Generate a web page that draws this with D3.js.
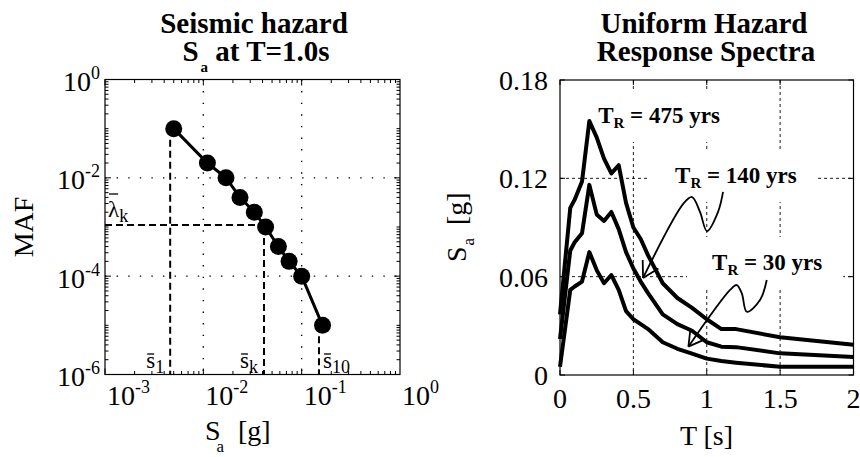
<!DOCTYPE html>
<html><head><meta charset="utf-8">
<script src="https://cdn.jsdelivr.net/npm/d3@7"></script>
<style>
body{margin:0;background:#fff}
svg{display:block}
text{font-family:"Liberation Serif","Times New Roman",serif;fill:#000}
</style>
</head><body>
<svg id="c" width="860" height="457"></svg>
<script>
// ---------- Left panel: seismic hazard curve ----------
const hazardSa  = [0.005, 0.011, 0.017, 0.0236, 0.033, 0.043, 0.058, 0.0745, 0.1, 0.163];
const hazardMAF = [0.1, 0.02, 0.01, 0.004, 0.002, 0.001, 0.0004, 0.0002, 0.0001, 0.00001];
const hazardXTicks = [1e-3, 1e-2, 1e-1, 1e0];
const hazardYTicks = [1e0, 1e-2, 1e-4, 1e-6];
const guideIdx = [0, 5, 9];              // points marked s̄1, s̄k, s̄10
const guideSa = [0.0046, 0.0414, 0.15];  // dashed verticals
const guideSub = ["1", "k", "10"];
const lambdaK = 0.0011;                  // dashed horizontal λ̄k

// ---------- Right panel: uniform hazard spectra ----------
const periods = [0, 0.07, 0.1, 0.15, 0.2, 0.25, 0.3, 0.35, 0.4, 0.45, 0.5, 0.55, 0.6, 0.7, 0.8, 0.9, 1.0, 1.1, 1.2, 1.5, 2.0];
const uhs475 = [0.037, 0.102, 0.107, 0.118, 0.155, 0.145, 0.132, 0.123, 0.128, 0.105, 0.090, 0.083, 0.073, 0.056, 0.047, 0.041, 0.034, 0.028, 0.028, 0.023, 0.0185];
const uhs140 = [0.022, 0.076, 0.081, 0.0865, 0.116, 0.098, 0.094, 0.0995, 0.089, 0.075, 0.065, 0.057, 0.050, 0.037, 0.031, 0.027, 0.020, 0.0173, 0.017, 0.0132, 0.011];
const uhs30  = [0.005, 0.052, 0.054, 0.057, 0.075, 0.064, 0.056, 0.061, 0.052, 0.039, 0.034, 0.031, 0.028, 0.020, 0.016, 0.013, 0.010, 0.0085, 0.0075, 0.005, 0.005];
const uhsXTicks = [0, 0.5, 1, 1.5, 2];
const uhsYTicks = [0, 0.06, 0.12, 0.18];
const uhsXTickLabels = ["0", "0.5", "1", "1.5", "2"];
const uhsYTickLabels = ["0", "0.06", "0.12", "0.18"];
const returnPeriods = ["475", "140", "30"];
const labelT = [0.26, 0.784, 1.036];
const labelS = [0.1538, 0.1172, 0.0641];
const arrow140T = [1.111, 1.077, 1.002, 0.954, 0.900, 0.845, 0.566];
const arrow140S = [0.1117, 0.0995, 0.0878, 0.0995, 0.1086, 0.1050, 0.0592];
const arrow30T  = [1.409, 1.363, 1.273, 1.239, 1.204, 1.159, 0.875];
const arrow30S  = [0.0580, 0.0458, 0.0386, 0.0498, 0.0549, 0.0519, 0.0173];

const svg = d3.select("#c");
const ANN = '"DejaVu Serif",serif';

function pow10(sel, exp) {
  sel.append("tspan").text("10");
  sel.append("tspan").attr("font-size", 18).attr("dy", -12).text(exp);
}

// ================= LEFT PANEL =================
const xL = d3.scaleLog().domain([1e-3, 1]).range([105, 400]);
const yL = d3.scaleLog().domain([1e-6, 1]).range([374.5, 79.5]);
const gL = svg.append("g");

// dotted grid
gL.selectAll(".gx").data(hazardXTicks.slice(1, -1)).join("line")
  .attr("x1", d => xL(d)).attr("x2", d => xL(d)).attr("y1", yL.range()[1]).attr("y2", yL.range()[0])
  .attr("stroke", "#000").attr("stroke-width", 1.4).attr("stroke-dasharray", "1.4,10.2");
gL.selectAll(".gy").data(hazardYTicks.slice(1, -1)).join("line")
  .attr("y1", d => yL(d)).attr("y2", d => yL(d)).attr("x1", xL.range()[0]).attr("x2", xL.range()[1])
  .attr("stroke", "#000").attr("stroke-width", 1.4).attr("stroke-dasharray", "1.4,10.2");

// minor/major ticks (inward, all four sides)
const xTickVals = [], yTickVals = [];
for (let e = -3; e < 0; e++) for (let k = 1; k < 10; k++) xTickVals.push(k * Math.pow(10, e));
for (let e = -6; e < 0; e++) for (let k = 1; k < 10; k++) yTickVals.push(k * Math.pow(10, e));
const isMajor = (v, list) => list.some(t => Math.abs(Math.log10(v) - Math.log10(t)) < 1e-6);
const tk = gL.append("g").attr("stroke", "#000").attr("stroke-width", 1);
xTickVals.forEach(v => {
  const L = isMajor(v, hazardXTicks) ? 6 : 3.5;
  tk.append("line").attr("x1", xL(v)).attr("x2", xL(v)).attr("y1", yL.range()[0]).attr("y2", yL.range()[0] - L);
  tk.append("line").attr("x1", xL(v)).attr("x2", xL(v)).attr("y1", yL.range()[1]).attr("y2", yL.range()[1] + L);
});
yTickVals.forEach(v => {
  const L = isMajor(v, hazardYTicks) ? 6 : 3.5;
  tk.append("line").attr("y1", yL(v)).attr("y2", yL(v)).attr("x1", xL.range()[0]).attr("x2", xL.range()[0] + L);
  tk.append("line").attr("y1", yL(v)).attr("y2", yL(v)).attr("x1", xL.range()[1]).attr("x2", xL.range()[1] - L);
});

// dashed guides
const dash = gL.append("g").attr("stroke", "#000").attr("stroke-width", 2).attr("stroke-dasharray", "7,4").attr("fill", "none");
guideIdx.forEach((pi, i) => {
  dash.append("line").attr("x1", xL(guideSa[i])).attr("x2", xL(guideSa[i]))
    .attr("y1", yL(hazardMAF[pi])).attr("y2", yL.range()[0]);
});
dash.append("line").attr("x1", xL.range()[0]).attr("x2", xL(hazardSa[5]))
  .attr("y1", yL(lambdaK)).attr("y2", yL(lambdaK));

// curve + markers
const pts = hazardSa.map((s, i) => [s, hazardMAF[i]]);
gL.append("path").datum(pts)
  .attr("d", d3.line().x(d => xL(d[0])).y(d => yL(d[1])))
  .attr("fill", "none").attr("stroke", "#000").attr("stroke-width", 3);
gL.selectAll("circle").data(pts).join("circle")
  .attr("cx", d => xL(d[0])).attr("cy", d => yL(d[1])).attr("r", 8.5).attr("fill", "#000");

// frame
gL.append("rect").attr("x", 105).attr("y", 79.5).attr("width", 295).attr("height", 295)
  .attr("fill", "none").attr("stroke", "#000").attr("stroke-width", 1.2);

// tick labels
hazardXTicks.forEach(t => {
  const tx = gL.append("text").attr("x", xL(t) + 2).attr("y", 405).attr("font-size", 28);
  pow10(tx, String(Math.round(Math.log10(t))));
});
hazardYTicks.forEach(t => {
  const tx = gL.append("text").attr("x", 100).attr("y", yL(t) + 11.5).attr("font-size", 28).attr("text-anchor", "end");
  pow10(tx, String(Math.round(Math.log10(t))));
});

// overlined symbol with subscript
function barSym(g, sym, sub, x, y, anchor, size, subSize, barY) {
  const t = g.append("text").attr("font-family", ANN).attr("font-size", size).attr("x", x).attr("y", y)
    .attr("text-anchor", anchor);
  t.append("tspan").text(sym);
  t.append("tspan").attr("font-size", subSize).attr("dy", 5).text(sub);
  const ext = t.node().getExtentOfChar(0);
  g.append("line").attr("x1", ext.x + 1).attr("x2", ext.x + ext.width - 1)
    .attr("y1", barY).attr("y2", barY).attr("stroke", "#000").attr("stroke-width", 1.3);
}
guideIdx.forEach((pi, i) => {
  const x = xL(guideSa[i]);
  barSym(gL, "s", guideSub[i], i === 2 ? x + 4 : x - 6, 368, i === 2 ? "start" : "end", 23, 18, 354);
});
barSym(gL, "\u03BB", "k", 108, yL(lambdaK) - 8, "start", 23, 18, 194);

// titles & labels
gL.append("text").attr("x", 254).attr("y", 33).attr("text-anchor", "middle").attr("font-size", 29).attr("font-weight", "bold").text("Seismic hazard");
const t2 = gL.append("text").attr("x", 256).attr("y", 61).attr("text-anchor", "middle").attr("font-size", 29).attr("font-weight", "bold");
t2.append("tspan").text("S");
t2.append("tspan").attr("font-size", 15).attr("dy", 11).attr("dx", 2).text("a");
t2.append("tspan").attr("dy", -11).text(" at T=1.0s");
const xl = gL.append("text").attr("x", 205).attr("y", 440).attr("font-size", 28);
xl.append("tspan").text("S");
xl.append("tspan").attr("font-size", 17).attr("dy", 12).attr("dx", -4).text("a");
xl.append("tspan").attr("dy", -12).attr("x", 238).text("[g]");
gL.append("text").attr("transform", "translate(33,227) rotate(-90)").attr("text-anchor", "middle").attr("font-size", 28).text("MAF");

// ================= RIGHT PANEL =================
const xR = d3.scaleLinear().domain([0, 2]).range([560, 853.5]);
const yR = d3.scaleLinear().domain([0, 0.18]).range([375, 80]);
const gR = svg.append("g");

// dashed grid
gR.selectAll(".vx").data(uhsXTicks.slice(1, -1)).join("line")
  .attr("x1", d => xR(d)).attr("x2", d => xR(d)).attr("y1", 80).attr("y2", 375)
  .attr("stroke", "#000").attr("stroke-width", 0.9).attr("stroke-dasharray", "3,3");
gR.selectAll(".hy").data(uhsYTicks.slice(1, -1)).join("line")
  .attr("y1", d => yR(d)).attr("y2", d => yR(d)).attr("x1", 560).attr("x2", 853.5)
  .attr("stroke", "#000").attr("stroke-width", 0.9).attr("stroke-dasharray", "3,3");

// ticks
const tkR = gR.append("g").attr("stroke", "#000").attr("stroke-width", 1);
uhsXTicks.forEach(v => {
  tkR.append("line").attr("x1", xR(v)).attr("x2", xR(v)).attr("y1", 375).attr("y2", 370);
  tkR.append("line").attr("x1", xR(v)).attr("x2", xR(v)).attr("y1", 80).attr("y2", 85);
});
uhsYTicks.forEach(v => {
  tkR.append("line").attr("y1", yR(v)).attr("y2", yR(v)).attr("x1", 560).attr("x2", 565);
  tkR.append("line").attr("y1", yR(v)).attr("y2", yR(v)).attr("x1", 853.5).attr("x2", 848.5);
});

// text boxes (white background, below curves)
const boxG = gR.append("g");
const curveG = gR.append("g");
const annG = gR.append("g");
const txtG = gR.append("g");

returnPeriods.forEach((rp, i) => {
  const t = txtG.append("text").attr("x", xR(labelT[i])).attr("y", yR(labelS[i]))
    .attr("font-size", 23).attr("font-weight", "bold");
  t.append("tspan").text("T");
  t.append("tspan").attr("font-size", 15).attr("dy", 5).text("R");
  t.append("tspan").attr("dy", -5).text(" = " + rp + " yrs");
  const bb = t.node().getBBox();
  boxG.append("rect").attr("x", bb.x - 25).attr("y", bb.y - 13).attr("width", bb.width + 46).attr("height", bb.height + 24)
    .attr("fill", "#fff");
});

// spectra
const series = [uhs475, uhs140, uhs30];
const lineR = d3.line().x(d => xR(d[0])).y(d => yR(d[1]));
series.forEach(s => {
  curveG.append("path").datum(periods.map((p, i) => [p, s[i]]))
    .attr("d", lineR).attr("fill", "none").attr("stroke", "#000").attr("stroke-width", 4)
    .attr("stroke-linejoin", "round");
});

// curly arrows
function curlyArrow(Ts, Ss) {
  const p = Ts.map((t, i) => [t, Ss[i]]);
  annG.append("path").datum(p)
    .attr("d", d3.line().x(d => xR(d[0])).y(d => yR(d[1])).curve(d3.curveCatmullRom.alpha(0.5)))
    .attr("fill", "none").attr("stroke", "#000").attr("stroke-width", 1.8);
  const n = p.length;
  const tip = [xR(p[n - 1][0]), yR(p[n - 1][1])];
  const prev = [xR(p[n - 2][0]), yR(p[n - 2][1])];
  const ang = Math.atan2(prev[1] - tip[1], prev[0] - tip[0]);
  [-0.52, 0.52].forEach(a => {
    annG.append("line").attr("x1", tip[0]).attr("y1", tip[1])
      .attr("x2", tip[0] + 18 * Math.cos(ang + a)).attr("y2", tip[1] + 18 * Math.sin(ang + a))
      .attr("stroke", "#000").attr("stroke-width", 1.8);
  });
}
curlyArrow(arrow140T, arrow140S);
curlyArrow(arrow30T, arrow30S);

// frame
gR.append("rect").attr("x", 560).attr("y", 80).attr("width", 293.5).attr("height", 295)
  .attr("fill", "none").attr("stroke", "#000").attr("stroke-width", 1.2);

// tick labels
uhsXTicks.forEach((v, i) => {
  gR.append("text").attr("x", xR(v)).attr("y", 408).attr("text-anchor", "middle").attr("font-size", 28).text(uhsXTickLabels[i]);
});
uhsYTicks.forEach((v, i) => {
  gR.append("text").attr("x", 548).attr("y", yR(v) + 10).attr("text-anchor", "end").attr("font-size", 28).text(uhsYTickLabels[i]);
});

// titles & labels
gR.append("text").attr("x", 704).attr("y", 33).attr("text-anchor", "middle").attr("font-size", 29).attr("font-weight", "bold").text("Uniform Hazard");
gR.append("text").attr("x", 706).attr("y", 61).attr("text-anchor", "middle").attr("font-size", 29).attr("font-weight", "bold").text("Response Spectra");
gR.append("text").attr("x", 706.5).attr("y", 445).attr("text-anchor", "middle").attr("font-size", 28).text("T [s]");
const yl = gR.append("text").attr("transform", "translate(466,262) rotate(-90)").attr("font-size", 28);
yl.append("tspan").text("S");
yl.append("tspan").attr("font-size", 17).attr("dy", 8).attr("dx", 1).text("a");
yl.append("tspan").attr("dy", -8).attr("x", 37).text("[g]");
</script>
</body></html>
